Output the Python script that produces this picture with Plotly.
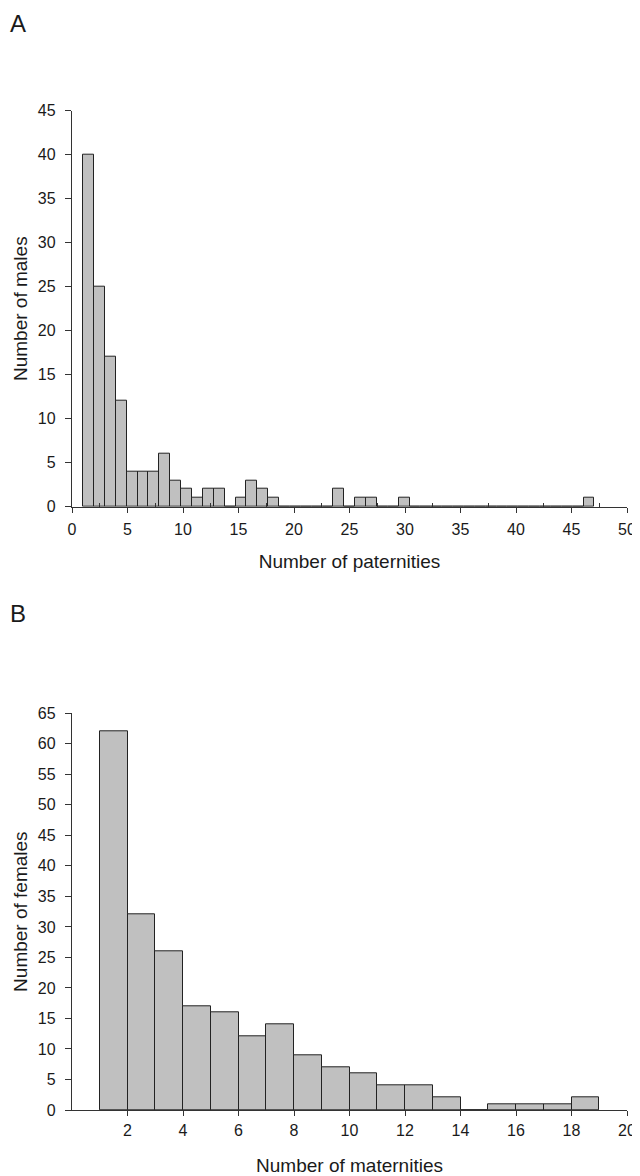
import plotly.graph_objects as go

# Panel A: number of paternities per male (bins 1..47) and number of males
paternities = list(range(1, 48))
males = [40, 25, 17, 12, 4, 4, 4, 6, 3, 2, 1, 2, 2, 0, 1, 3, 2, 1,
         0, 0, 0, 0, 0, 2, 0, 1, 1, 0, 0, 1,
         0, 0, 0, 0, 0, 0, 0, 0, 0, 0, 0, 0, 0, 0, 0, 0, 1]

# Panel B: number of maternities per female (bins starting 1..18) and number of females
maternities = list(range(1, 19))
females = [62, 32, 26, 17, 16, 12, 14, 9, 7, 6, 4, 4, 2, 0, 1, 1, 1, 2]

x_ticks_a = [0, 5, 10, 15, 20, 25, 30, 35, 40, 45, 50]
x_minor_a = [2.5, 7.5, 12.5, 17.5, 22.5, 27.5, 32.5, 37.5, 42.5, 47.5]
y_ticks_a = [0, 5, 10, 15, 20, 25, 30, 35, 40, 45]
x_ticks_b = [2, 4, 6, 8, 10, 12, 14, 16, 18, 20]
y_ticks_b = list(range(0, 70, 5))

# page body has an 8px margin: the figure starts 8px in and runs to the window edge
OFF = 8
W, H = 640 - OFF, 1176 - OFF
FONT = "Liberation Sans, Arial, sans-serif"
TXT = "#1a1a1a"
LINE = "#333333"
FILL = "#c0c0c0"


def px_x(v):
    return (v - OFF) / W


def px_y(v):
    return 1 - (v - OFF) / H


xd = [px_x(72), px_x(627)]
ya = [px_y(506.7), px_y(110.7)]
yb = [px_y(1110), px_y(713.3)]

fig = go.Figure()

# invisible anchor trace so the visible 0-50 axis of panel A is drawn
fig.add_trace(go.Scatter(x=[x_ticks_a[0], x_ticks_a[-1]], y=[0, 0], mode="markers",
                         marker=dict(opacity=0), hoverinfo="skip",
                         xaxis="x", yaxis="y", showlegend=False))
fig.add_trace(go.Bar(
    x=paternities, y=males, width=1,
    marker=dict(color=FILL, line=dict(color="#222222", width=1)),
    xaxis="x3", yaxis="y", showlegend=False,
))
fig.add_trace(go.Bar(
    x=[m + 0.5 for m in maternities], y=females, width=1,
    marker=dict(color=FILL, line=dict(color="#222222", width=1)),
    xaxis="x2", yaxis="y2", showlegend=False,
))

tickfont = dict(family=FONT, size=16, color=TXT)
titlefont = dict(family=FONT, size=19, color=TXT)

common_x = dict(showgrid=False, zeroline=False, showline=True, linecolor=LINE,
                linewidth=1.3, ticks="outside", ticklen=5, tickwidth=1.3,
                tickcolor=LINE, tickfont=tickfont, tickmode="array", automargin=False,
                ticklabeloverflow="allow")
common_y = dict(showgrid=False, zeroline=False, showline=True, linecolor=LINE,
                linewidth=1.3, ticks="outside", ticklen=6, tickwidth=1.3,
                tickcolor=LINE, tickfont=tickfont, tickmode="array", automargin=False)

fig.update_layout(
    width=W, height=H,
    margin=dict(l=0, r=0, t=0, b=0),
    paper_bgcolor="white", plot_bgcolor="white",
    bargap=0,
    xaxis=dict(common_x, domain=xd, anchor="y", range=[0, 50],
               tickvals=x_ticks_a, ticklabelstandoff=3,
               minor=dict(ticks="inside", tickmode="array", tickvals=x_minor_a,
                          ticklen=4, tickwidth=1.3, tickcolor=LINE),
               title=dict(text="Number of paternities", font=titlefont, standoff=17)),
    xaxis3=dict(domain=xd, anchor="y", overlaying="x", range=[-0.53, 50.49],
                visible=False, showgrid=False, zeroline=False, automargin=False),
    yaxis=dict(common_y, domain=ya, anchor="x", range=[0, 45],
               tickvals=y_ticks_a, ticklabelstandoff=6,
               title=dict(text="Number of males", font=titlefont, standoff=5)),
    xaxis2=dict(common_x, domain=xd, anchor="y2", range=[0, 20],
                tickvals=x_ticks_b, ticklabelstandoff=1,
                title=dict(text="Number of maternities", font=titlefont, standoff=24)),
    yaxis2=dict(common_y, domain=yb, anchor="x2", range=[0, 65],
                tickvals=y_ticks_b, ticklabelstandoff=6,
                title=dict(text="Number of females", font=titlefont, standoff=5)),
    annotations=[
        dict(text="A", xref="paper", yref="paper", x=0, y=1,
             xanchor="left", yanchor="top", showarrow=False,
             font=dict(family=FONT, size=24, color=TXT)),
        dict(text="B", xref="paper", yref="paper", x=0, y=px_y(598),
             xanchor="left", yanchor="top", showarrow=False,
             font=dict(family=FONT, size=24, color=TXT)),
    ],
)

fig.write_html("out.html")
